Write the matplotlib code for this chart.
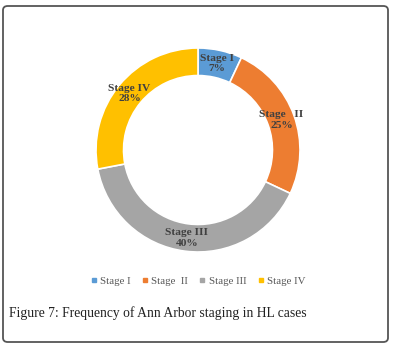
import numpy as np
import matplotlib.pyplot as plt
from matplotlib.patches import FancyBboxPatch
from matplotlib.lines import Line2D

# Ann Arbor staging frequencies (%)
stages = ["Stage I", "Stage  II", "Stage III", "Stage IV"]
slice_labels = ["Stage I", "Stage   II", "Stage III", "Stage IV"]
percents = [7, 25, 40, 28]
colors = ["#5B9BD5", "#ED7D31", "#A5A5A5", "#FFC000"]
caption = "Figure 7: Frequency of Ann Arbor staging in HL cases"

W, H = 395, 348
fig = plt.figure(figsize=(W / 100, H / 100), dpi=100)
fig.patch.set_facecolor("white")

# rounded outer frame
frame = FancyBboxPatch((3 / W, 6 / H), 385 / W, 336 / H,
                       boxstyle="round,pad=0,rounding_size=0.012",
                       transform=fig.transFigure, fill=False,
                       edgecolor="#555555", linewidth=1.3)
fig.patches.append(frame)

# donut centred at (198,150) px, outer radius 102 px
cx, cy, r = 198, 150, 102
ax = fig.add_axes([(cx - r) / W, (H - cy - r) / H, 2 * r / W, 2 * r / H])
wedges, _ = ax.pie(percents, colors=colors, startangle=90, counterclock=False,
                   radius=1.0, wedgeprops=dict(width=0.27, edgecolor="white", linewidth=1.2))
ax.set_xlim(-1, 1)
ax.set_ylim(-1, 1)
ax.set_aspect("equal")
ax.axis("off")

for w, lab, p in zip(wedges, slice_labels, percents):
    ang = np.deg2rad((w.theta1 + w.theta2) / 2)
    x, y = 0.87 * np.cos(ang), 0.87 * np.sin(ang)
    ax.text(x, y, f"{lab}\n{p}%", ha="center", va="center", family="Liberation Serif",
            fontsize=8.2, fontweight="bold", color="#404040", linespacing=1.2)

handles = [Line2D([], [], marker="s", linestyle="none", markersize=3,
                  markerfacecolor=c, markeredgecolor=c) for c in colors]
fig.legend(handles, stages, loc="center", bbox_to_anchor=(cx / W, 1 - 281 / H),
           ncol=4, frameon=False, handlelength=0.6, handletextpad=0.3, columnspacing=1.0,
           prop=dict(family="Liberation Serif", size=7.8), labelcolor="#595959")

fig.text(9 / W, 1 - 313 / H, caption, ha="left", va="center",
         family="Liberation Serif", fontsize=9.8, color="#222222")

fig.savefig("out.png", dpi=100)
